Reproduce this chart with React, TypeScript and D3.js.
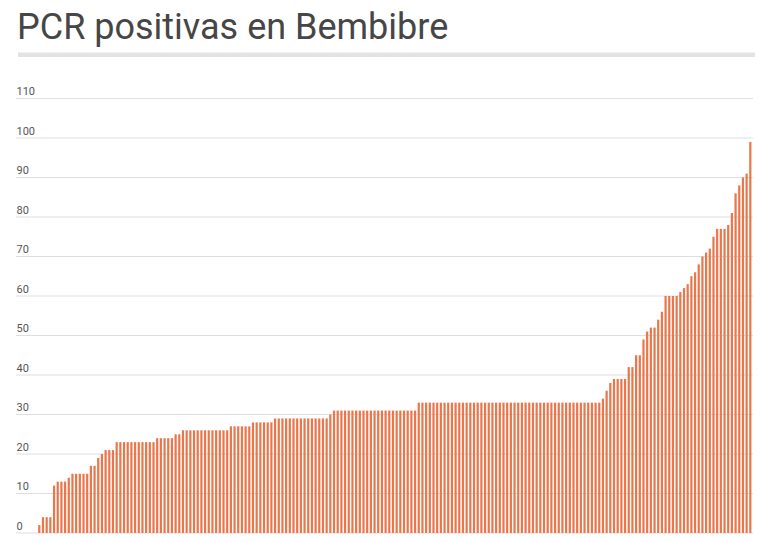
import React from "react";
import * as d3 from "d3";

const TITLE = "PCR positivas en Bembibre";

// Bars, read left to right (one per day)
const values: number[] = [
  2, 4, 4, 4, 12, 13, 13, 13, 14, 15, 15, 15, 15, 15, 17, 17, 19, 20, 21, 21, 21,
  23, 23, 23, 23, 23, 23, 23, 23, 23, 23, 23,
  24, 24, 24, 24, 24,
  25, 25,
  26, 26, 26, 26, 26, 26, 26, 26, 26, 26, 26, 26, 26,
  27, 27, 27, 27, 27, 27,
  28, 28, 28, 28, 28, 28,
  29, 29, 29, 29, 29, 29, 29, 29, 29, 29, 29, 29, 29, 29, 29,
  30,
  31, 31, 31, 31, 31, 31, 31, 31, 31, 31, 31, 31, 31, 31, 31, 31, 31, 31, 31, 31, 31, 31, 31,
  33, 33, 33, 33, 33, 33, 33, 33, 33, 33, 33, 33, 33, 33, 33, 33, 33, 33, 33, 33, 33, 33, 33, 33, 33,
  33, 33, 33, 33, 33, 33, 33, 33, 33, 33, 33, 33, 33, 33, 33, 33, 33, 33, 33, 33, 33, 33, 33, 33, 33,
  34, 36, 38, 39, 39, 39, 39, 42, 42, 45, 45, 49, 51, 52, 52, 54, 56,
  60, 60, 60, 60, 61, 62, 63, 65, 66, 68, 70, 71, 72, 75, 77, 77, 77, 78, 81, 86, 88, 90, 91, 99,
];

const yTicks: number[] = [0, 10, 20, 30, 40, 50, 60, 70, 80, 90, 100, 110];

export default function App() {
  const W = 768;
  const H = 542;
  const x0 = 37.46;
  const x1 = x0 + values.length * 3.684;
  const x = d3
    .scaleBand<number>()
    .domain(values.map((_, i) => i))
    .range([x0, x1])
    .paddingInner(0.4)
    .paddingOuter(0.2);
  const y = d3.scaleLinear().domain([0, 110]).range([533, 98.5]);

  return (
    <div style={{ position: "fixed", left: 0, top: 0, width: W, height: H, background: "#fff" }}>
      <svg width={W} height={H} style={{ display: "block" }}>
        <rect x={0} y={0} width={W} height={H} fill="#fff" />
        <text
          x={17}
          y={39}
          fontFamily="Roboto, 'Noto Sans', sans-serif"
          fontSize={36}
          fill="#464646"
        >
          {TITLE}
        </text>
        <rect x={18} y={52.5} width={737} height={4.5} fill="#e3e3e3" />
        {yTicks.map((t) => (
          <g key={t}>
            <line x1={16} x2={753} y1={y(t)} y2={y(t)} stroke="#dedede" strokeWidth={1} />
            <text
              x={16.5}
              y={y(t) - 3.5}
              fontFamily="Roboto, 'Noto Sans', sans-serif"
              fontSize={11}
              fill="#555"
            >
              {t}
            </text>
          </g>
        ))}
        {values.map((v, i) => (
          <rect
            key={i}
            x={x(i)}
            y={y(v)}
            width={x.bandwidth()}
            height={y(0) - y(v)}
            fill="#ea764c"
          />
        ))}
      </svg>
    </div>
  );
}
